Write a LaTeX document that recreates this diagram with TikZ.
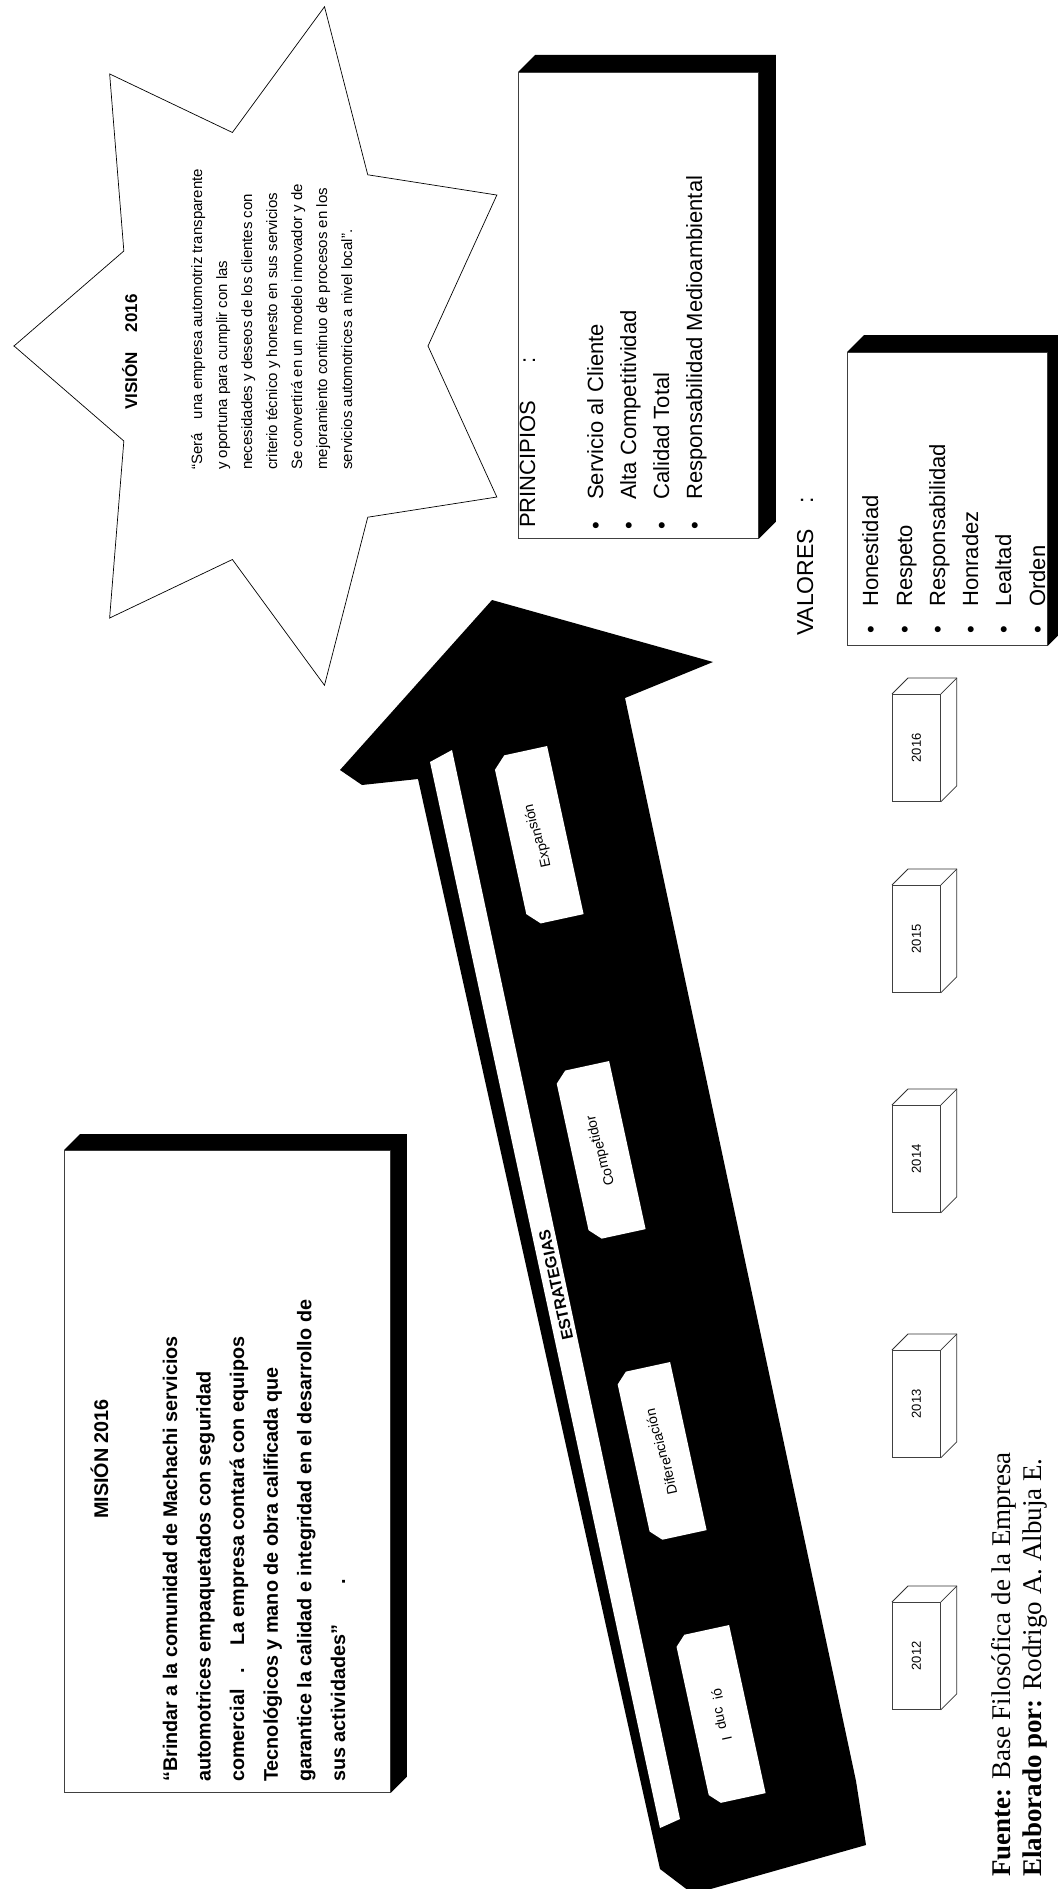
\documentclass[tikz,border=0pt]{standalone}
\usepackage{fontspec}
\setmainfont{Liberation Sans}
\newfontfamily\timesfont{Liberation Serif}
\usetikzlibrary{shapes.misc}

\tikzset{
  frontbox/.style={draw=black!75, line width=0.8pt, fill=white, inner sep=0pt, anchor=north west},
  cubebox/.style={frontbox, minimum width=48, minimum height=107},
  cubeline/.style={draw=black!80, line width=0.8pt},
  starline/.style={draw=black, line width=0.7pt},
  vtext/.style={rotate=90, inner sep=0pt},
  misiontext/.style={vtext, anchor=base west, font=\fontsize{19.8}{21}\selectfont\bfseries},
  listtext/.style={vtext, anchor=base west, font=\fontsize{22}{24}\selectfont},
  vistext/.style={vtext, anchor=base west, font=\fontsize{15}{16}\selectfont},
  strategy/.style={chamfered rectangle, chamfered rectangle corners={north west,north east},
    chamfered rectangle xsep=12pt, fill=white, draw=none, rotate=102.25,
    minimum width=172, minimum height=56, inner sep=0pt, font=\fontsize{14}{15}\selectfont},
}

% black top and right faces of a raised box
\newcommand{\blackdepth}[2]{%
  \fill[black] (#1.north west) -- ++(#2,-#2) -- ([shift={(#2,-#2)}]#1.north east)
    -- ([shift={(#2,-#2)}]#1.south east) -- (#1.south east) -- (#1.north east) -- cycle;}

\begin{document}
\begin{tikzpicture}[x=1pt,y=-1pt]
  \fill[white] (0,0) rectangle (1057,1889);
  \useasboundingbox (0,0) rectangle (1057,1889);

  % vision star
  \draw[starline] (14,346) \foreach \k in {0,...,6} {
      -- ({268+160*cos(154.29-51.43*\k)},{346-219*sin(154.29-51.43*\k)})
      -- ({268+254*cos(128.57-51.43*\k)},{346-348*sin(128.57-51.43*\k)}) } -- cycle;
  \node[vtext, anchor=base, font=\fontsize{17}{18}\selectfont\bfseries] (vision) at (137,352) {VISIÓN\hspace{20pt}2016};
  \foreach \ln [count=\i from 0] in {{“Será\hspace{14pt}una empresa automotriz transparente},
      {y oportuna para cumplir con las}, {necesidades y deseos de los clientes con},
      {criterio técnico y honesto en sus servicios}, {Se convertirá en un modelo innovador y de},
      {mejoramiento continuo de procesos en los}, {servicios automotrices a nivel local”.}}
    \node[vistext] (vis\i) at ({202+25*\i},470) {\ln};

  % mision box
  \node[frontbox, minimum width=326, minimum height=642] (mision) at (64,1150) {};
  \blackdepth{mision}{16}
  \node[vtext, anchor=base, font=\fontsize{19.8}{21}\selectfont\bfseries] (misiontitle) at (108,1459) {MISIÓN 2016};
  \foreach \ln [count=\i from 0] in {{“Brindar a la comunidad de Machachi servicios},
      {automotrices empaquetados con seguridad},
      {comercial\hspace{16pt}.\hspace{22pt}La empresa contará con equipos},
      {Tecnológicos y mano de obra calificada que},
      {garantice la calidad e integridad en el desarrollo de},
      {sus actividades”\hspace{40pt}.}}
    \node[misiontext] (mis\i) at ({177+33.6*\i},1782) {\ln};

  % principios box
  \node[frontbox, minimum width=240, minimum height=466] (principios) at (518,72) {};
  \node[listtext] (printitle) at (535,528) {PRINCIPIOS\hspace{37pt}:};
  \foreach \prin/\bx in {Servicio al Cliente/603, Alta Competitividad/636,
      Calidad Total/669, Responsabilidad Medioambiental/702} {
    \node[vtext, anchor=base, font=\fontsize{22}{24}\selectfont] at (\bx,526) {•};
    \node[listtext] at (\bx,500) {\prin};
  }
  \blackdepth{principios}{17}

  % valores box
  \node[vtext, anchor=base west, font=\fontsize{23}{24}\selectfont] (valtitle) at (813,636) {VALORES\hspace{25pt}:};
  \node[frontbox, minimum width=200, minimum height=293] (valores) at (847,352) {};
  \foreach \val/\bx in {Honestidad/878, Respeto/912, Responsabilidad/945,
      Honradez/978, Lealtad/1011, Orden/1045} {
    \node[vtext, anchor=base, font=\fontsize{22}{24}\selectfont] at (\bx,630) {•};
    \node[listtext] at (\bx,607) {\val};
  }
  \blackdepth{valores}{17}

  % year cubes
  \foreach \yr/\ytop in {2016/694, 2015/885, 2014/1105, 2013/1350, 2012/1602} {
    \node[cubebox] (cube\yr) at (892,\ytop) {};
    \draw[cubeline] (cube\yr.north west) -- ++(16,-16) -- ([shift={(16,-16)}]cube\yr.north east)
      -- ([shift={(16,-16)}]cube\yr.south east) -- (cube\yr.south east);
    \draw[cubeline] (cube\yr.north east) -- ++(16,-16);
    \node[vtext, font=\fontsize{13}{14}\selectfont] at (cube\yr.center) {\yr};
  }

  % strategy arrow
  \fill[black] (492,600) -- (713,662) -- (625,698) -- (856,1781) -- (866,1845) -- (693,1894)
    -- (660,1869) -- (418,779) -- (362,785) -- (340,770) -- cycle;
  \fill[white] (430,762) -- (452,750) -- (680,1819) -- (660,1828) -- cycle;
  \node[rotate=102.25, fill=white, inner sep=1.5pt, font=\fontsize{16}{17}\selectfont\bfseries] (estrategias) at (556,1285) {ESTRATEGIAS};
  \node[strategy] (expansion) at (538,836) {Exp\raisebox{2pt}{an}\raisebox{4pt}{sión}};
  \node[strategy] (competidor) at (600,1151) {Co\raisebox{2pt}{mpe}\raisebox{4pt}{tidor}};
  \node[strategy] (diferenciacion) at (661,1452) {Difere\raisebox{2pt}{ncia}\raisebox{4pt}{ción}};
  \node[strategy] (induccion) at (720,1715) {I\hspace{8pt}\raisebox{3pt}{duc}\hspace{8pt}ió};

  % source
  \node[vtext, anchor=base west, font=\timesfont\fontsize{27}{28}\selectfont] (fuente) at (1010,1877) {\textbf{Fuente:} Base Filosófica de la Empresa};
  \node[vtext, anchor=base west, font=\timesfont\fontsize{27}{28}\selectfont] (elaborado) at (1041,1877) {\textbf{Elaborado por:} Rodrigo A. Albuja E.};
\end{tikzpicture}
\end{document}
